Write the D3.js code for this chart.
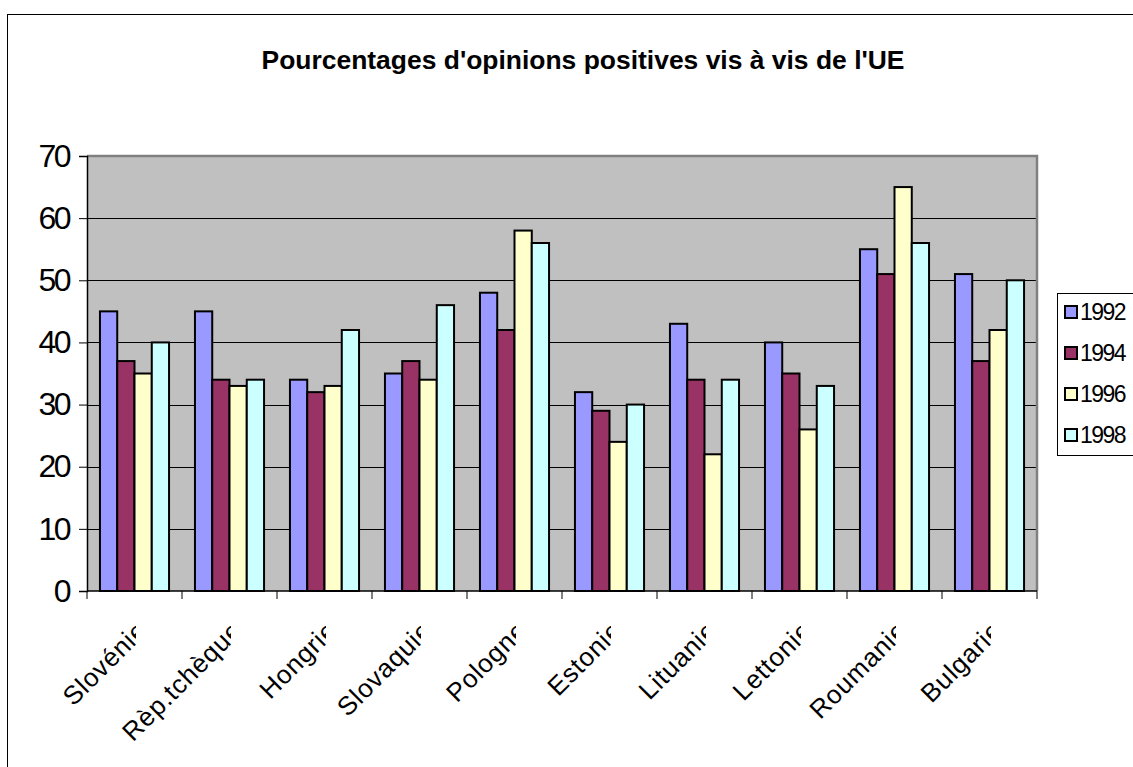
<!DOCTYPE html>
<html>
<head>
<meta charset="utf-8">
<script src="https://cdn.jsdelivr.net/npm/d3@7"></script>
<style>
  body { margin: 0; background: #fff; }
  text { font-family: Arial, "Liberation Sans", sans-serif; }
</style>
</head>
<body>
<svg width="1133" height="767"></svg>
<script>
const svg = d3.select("svg");

// data
const categories = ["Slovénie", "Rèp.tchèque", "Hongrie", "Slovaquie", "Pologne",
                    "Estonie", "Lituanie", "Lettonie", "Roumanie", "Bulgarie"];
const years = ["1992", "1994", "1996", "1998"];
const v1992 = [45, 45, 34, 35, 48, 32, 43, 40, 55, 51];
const v1994 = [37, 34, 32, 37, 42, 29, 34, 35, 51, 37];
const v1996 = [35, 33, 33, 34, 58, 24, 22, 26, 65, 42];
const v1998 = [40, 34, 42, 46, 56, 30, 34, 33, 56, 50];
const yTicks = [0, 10, 20, 30, 40, 50, 60, 70];
const colors = ["#9999FF", "#993366", "#FFFFCC", "#CCFFFF"];

const series = [v1992, v1994, v1996, v1998];

// outer chart border
svg.append('rect')
    .attr('x', 7.5).attr('y', 14.5)
    .attr('width', 1140).attr('height', 780)
    .attr('fill', 'white')
    .attr('stroke', 'black');

// title (condensed like the original)
svg.append('text')
    .attr('x', 583).attr('y', 69)
    .attr('text-anchor', 'middle')
    .attr('font-size', 26)
    .attr('font-weight', 'bold')
    .attr('textLength', 643)
    .attr('lengthAdjust', 'spacingAndGlyphs')
    .text("Pourcentages d'opinions positives vis à vis de l'UE");

const plotLeft = 87, plotRight = 1037, plotTop = 156, plotBottom = 591;

const x0 = d3.scaleBand().domain(categories).range([plotLeft, plotRight]);
const x1 = d3.scaleBand().domain(years).range([0, x0.bandwidth()]).paddingOuter(0.75);
const y = d3.scaleLinear().domain([0, 70]).range([plotBottom, plotTop]);

// plot area
svg.append('rect')
    .attr('x', plotLeft).attr('y', plotTop)
    .attr('width', plotRight - plotLeft).attr('height', plotBottom - plotTop)
    .attr('fill', '#C0C0C0');

// gridlines
svg.append('g')
    .selectAll('line')
    .data(yTicks.filter(d => d > 0 && d < 70))
    .join('line')
        .attr('x1', plotLeft).attr('x2', plotRight)
        .attr('y1', d => Math.round(y(d)) + 0.5)
        .attr('y2', d => Math.round(y(d)) + 0.5)
        .attr('stroke', 'black');

// gray top/right border
svg.append('path')
    .attr('d', `M${plotLeft},${plotTop} H${plotRight} V${plotBottom}`)
    .attr('fill', 'none')
    .attr('stroke', '#808080')
    .attr('stroke-width', 2.5);

// bars
const groups = svg.append('g')
    .selectAll('g')
    .data(categories)
    .join('g')
        .attr('transform', d => `translate(${x0(d)},0)`);

groups.selectAll('rect')
    .data((d, i) => years.map((yr, j) => ({ yr, j, v: series[j][i] })))
    .join('rect')
        .attr('x', d => x1(d.yr))
        .attr('y', d => y(d.v))
        .attr('width', x1.bandwidth())
        .attr('height', d => y(0) - y(d.v))
        .attr('fill', d => colors[d.j])
        .attr('stroke', 'black')
        .attr('stroke-width', 2);

// y axis
const yAxis = svg.append('g')
    .attr('transform', `translate(${plotLeft},0)`)
    .call(d3.axisLeft(y).tickValues(yTicks).tickSize(8).tickPadding(10));
yAxis.select('.domain').attr('stroke', 'black').attr('stroke-width', 1.5);
yAxis.selectAll('.tick text')
    .attr('font-size', 32)
    .attr('letter-spacing', -2.5)
    .attr('fill', 'black')
    .attr('font-family', 'Arial, "Liberation Sans", sans-serif');

// x axis with ticks between categories
const boundaries = categories.map(c => x0(c)).concat([plotRight]);
svg.append('line')
    .attr('x1', plotLeft).attr('x2', plotRight)
    .attr('y1', plotBottom).attr('y2', plotBottom)
    .attr('stroke', 'black').attr('stroke-width', 1.5);
svg.append('g')
    .selectAll('line')
    .data(boundaries)
    .join('line')
        .attr('x1', d => d).attr('x2', d => d)
        .attr('y1', plotBottom).attr('y2', plotBottom + 8)
        .attr('stroke', 'black');

// rotated category labels, cut at the middle of each category like the original
const defs = svg.append('defs');
categories.forEach((c, i) => {
    const cx = x0(c) + x0.bandwidth() / 2;
    defs.append('clipPath').attr('id', 'clip' + i)
        .append('rect')
        .attr('x', cx - 200).attr('y', plotBottom)
        .attr('width', 201.5).attr('height', 200);
    svg.append('g')
        .attr('clip-path', `url(#clip${i})`)
        .append('text')
        .attr('transform', `translate(${cx + 14},${632}) rotate(-45)`)
        .attr('text-anchor', 'end')
        .attr('font-size', 26)
        .attr('letter-spacing', 0.8)
        .text(c);
});

// legend
const legend = svg.append('g');
legend.append('rect')
    .attr('x', 1057.5).attr('y', 293.5)
    .attr('width', 90).attr('height', 162)
    .attr('fill', 'white')
    .attr('stroke', 'black');
years.forEach((yr, j) => {
    const ly = 312 + j * 41;
    legend.append('rect')
        .attr('x', 1065).attr('y', ly - 6)
        .attr('width', 12).attr('height', 12)
        .attr('fill', colors[j])
        .attr('stroke', 'black')
        .attr('stroke-width', 2);
    legend.append('text')
        .attr('x', 1080).attr('y', ly + 8)
        .attr('font-size', 23)
        .attr('letter-spacing', -1.5)
        .text(yr);
});
</script>
</body>
</html>
